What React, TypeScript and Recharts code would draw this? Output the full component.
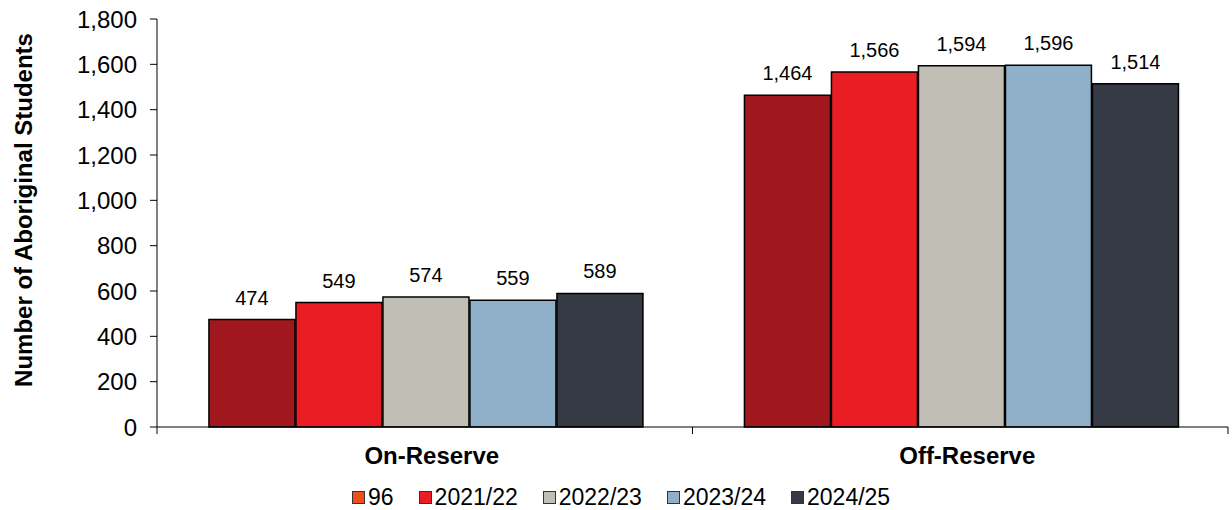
import React from "react";
import {
  BarChart,
  Bar,
  XAxis,
  YAxis,
  Legend,
  LabelList,
} from "recharts";

const categories = ["On-Reserve", "Off-Reserve"];
const seriesNames = ["96", "2021/22", "2022/23", "2023/24", "2024/25"];
const values96 = [474, 1464];
const values2122 = [549, 1566];
const values2223 = [574, 1594];
const values2324 = [559, 1596];
const values2425 = [589, 1514];
const yTicks = [0, 200, 400, 600, 800, 1000, 1200, 1400, 1600, 1800];

const barColors = ["#A0181E", "#EA1C24", "#C1BEB5", "#8FB0C8", "#363A45"];
const legendColors = ["#EE4E1A", "#EA1C24", "#C1BEB5", "#8FB0C8", "#363A45"];

const seriesValues = [values96, values2122, values2223, values2324, values2425];
const keys = ["s0", "s1", "s2", "s3", "s4"];

const data = categories.map((name, i) => {
  const row: Record<string, string | number> = { name, idx: i + 0.5 };
  seriesValues.forEach((vals, s) => {
    row[keys[s]] = vals[i];
  });
  return row;
});

const FONT = "'Liberation Sans', Arial, sans-serif";

const fmt = (v: any) => Number(v).toLocaleString("en-US");

const LegendContent = () => (
  <div
    style={{
      display: "flex",
      justifyContent: "flex-start",
      gap: 25,
      fontFamily: FONT,
      fontSize: 23,
      lineHeight: "26px",
      color: "#000",
      paddingTop: 7,
      paddingLeft: 352,
    }}
  >
    {seriesNames.map((n, i) => (
      <div key={n} style={{ display: "flex", alignItems: "center" }}>
        <span
          style={{
            display: "inline-block",
            width: 11,
            height: 11,
            background: legendColors[i],
            border: "1px solid #333",
            marginRight: 3,
          }}
        />
        <span>{n}</span>
      </div>
    ))}
  </div>
);

const YLabel = (props: any) => {
  const { viewBox } = props;
  const cy = viewBox.y + viewBox.height / 2 - 13;
  return (
    <text
      x={23}
      y={cy}
      transform={`rotate(-90, 23, ${cy})`}
      textAnchor="middle"
      dominantBaseline="central"
      fontFamily={FONT}
      fontSize={24}
      fontWeight="bold"
      fill="#000"
    >
      Number of Aboriginal Students
    </text>
  );
};

export default function App() {
  return (
    <div style={{ position: "fixed", left: 0, top: 0, background: "#fff" }}>
      <BarChart
        width={1232}
        height={510}
        data={data}
        margin={{ top: 19, right: 4, left: 0, bottom: 0 }}
        barCategoryGap="9.7%"
        barGap={1}
      >
        <XAxis
          xAxisId="bounds"
          type="number"
          dataKey="idx"
          domain={[0, 2]}
          ticks={[0, 1, 2]}
          interval={0}
          height={1}
          tickFormatter={() => " "}
          tickSize={7}
          tickLine={{ stroke: "#000" }}
          axisLine={{ stroke: "#000" }}
        />
        <XAxis
          xAxisId="cat"
          dataKey="name"
          height={49}
          tickLine={false}
          axisLine={false}
          tick={{
            fill: "#000",
            fontSize: 24,
            fontWeight: "bold",
            fontFamily: FONT,
            dx: 7,
          }}
          tickMargin={13}
        />
        <YAxis
          width={157}
          domain={[0, 1800]}
          ticks={yTicks}
          interval={0}
          tickFormatter={fmt}
          tickSize={7}
          tickMargin={13}
          tickLine={{ stroke: "#000" }}
          axisLine={{ stroke: "#000" }}
          tick={{ fill: "#000", fontSize: 24, fontFamily: FONT }}
          label={<YLabel />}
        />
        <Legend
          verticalAlign="bottom"
          height={33}
          content={<LegendContent />}
        />
        {keys.map((k, s) => (
          <Bar
            key={k}
            xAxisId="cat"
            dataKey={k}
            name={seriesNames[s]}
            fill={barColors[s]}
            stroke="#000"
            strokeWidth={1.5}
            isAnimationActive={false}
          >
            <LabelList
              dataKey={k}
              position="top"
              offset={15}
              formatter={fmt}
              style={{ fill: "#000", fontSize: 20, fontFamily: FONT }}
            />
          </Bar>
        ))}
      </BarChart>
    </div>
  );
}
